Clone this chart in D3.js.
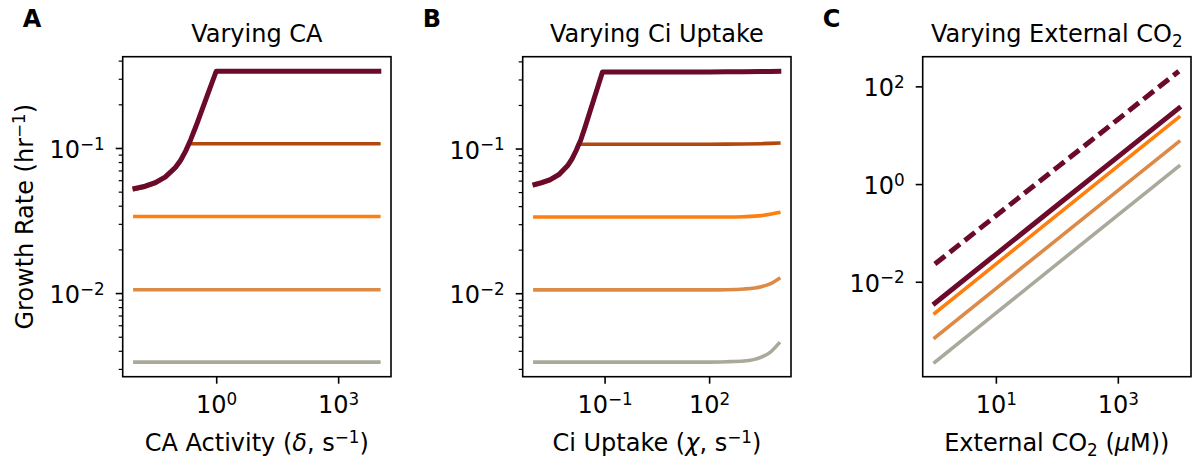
<!DOCTYPE html>
<meta charset="utf-8">
<head>
<style>
body { margin: 0; background: #fff; }
text { font-family: "DejaVu Sans", sans-serif; fill: #000; }
.axis path { display: none; }
.axis line { stroke: #000; }
</style>
</head>
<body>
<script src="https://cdnjs.cloudflare.com/ajax/libs/d3/7.8.5/d3.min.js"></script>
<script>
// ---------------- data ----------------
var seriesColors = ["#6b0a2b", "#b3480d", "#ff7f0e", "#de8a47", "#aba99b"];

// A: varying CA activity
var caActivity = [0.01, 0.0178, 0.0316, 0.0562, 0.1, 0.1334, 0.1778, 0.2128, 0.2371, 0.3162, 0.5623, 1, 10, 100, 1000, 10000];
var caRate1 = [0.0526, 0.0545, 0.0577, 0.0632, 0.0736, 0.0824, 0.0955, 0.107, 0.1146, 0.1406, 0.2178, 0.338, 0.338, 0.338, 0.338, 0.338];
var caRate2 = [0.0518, 0.0537, 0.0568, 0.0623, 0.0725, 0.0812, 0.0941, 0.1062, 0.107, 0.107, 0.107, 0.107, 0.107, 0.107, 0.107, 0.107];
var caRate3 = [0.0337, 0.0337, 0.0337, 0.0337, 0.0337, 0.0337, 0.0337, 0.0337, 0.0337, 0.0337, 0.0337, 0.0337, 0.0337, 0.0337, 0.0337, 0.0337];
var caRate4 = [0.01055, 0.01055, 0.01055, 0.01055, 0.01055, 0.01055, 0.01055, 0.01055, 0.01055, 0.01055, 0.01055, 0.01055, 0.01055, 0.01055, 0.01055, 0.01055];
var caRate5 = [0.00334, 0.00334, 0.00334, 0.00334, 0.00334, 0.00334, 0.00334, 0.00334, 0.00334, 0.00334, 0.00334, 0.00334, 0.00334, 0.00334, 0.00334, 0.00334];

// B: varying Ci uptake
var ciUptake = [0.001, 0.00155, 0.00275, 0.0049, 0.0087, 0.0116, 0.0155, 0.0182, 0.0207, 0.0275, 0.049, 0.087,
                1, 10, 100, 316, 1000, 3160, 5620, 10000];
var ciRate1 = [0.0564, 0.0581, 0.0610, 0.0662, 0.0762, 0.0847, 0.0977, 0.107, 0.1146, 0.1406, 0.2178, 0.338,
               0.338, 0.338, 0.3385, 0.339, 0.339, 0.340, 0.341, 0.342];
var ciRate2 = [0.0556, 0.0572, 0.0601, 0.0652, 0.0751, 0.0834, 0.0962, 0.1062, 0.107, 0.107, 0.107, 0.107,
               0.107, 0.107, 0.107, 0.1072, 0.1075, 0.108, 0.1085, 0.109];
var ciRate3 = [0.0336, 0.0336, 0.0336, 0.0336, 0.0336, 0.0336, 0.0336, 0.0336, 0.0336, 0.0336, 0.0336, 0.0336,
               0.0336, 0.0336, 0.0336, 0.0336, 0.0338, 0.0344, 0.0351, 0.0361];
var ciRate4 = [0.01055, 0.01055, 0.01055, 0.01055, 0.01055, 0.01055, 0.01055, 0.01055, 0.01055, 0.01055, 0.01055, 0.01055,
               0.01055, 0.01055, 0.01055, 0.01058, 0.0107, 0.0111, 0.0116, 0.0126];
var ciRate5 = [0.00334, 0.00334, 0.00334, 0.00334, 0.00334, 0.00334, 0.00334, 0.00334, 0.00334, 0.00334, 0.00334, 0.00334,
               0.00334, 0.00334, 0.00334, 0.00336, 0.0034, 0.00362, 0.0039, 0.0045];

// C: varying external CO2
var co2 = [1, 10, 100, 1000, 10000];
var co2RateDashed = [0.0231, 0.224, 2.17, 21.0, 204];
var co2Rate1 = [0.00365, 0.0364, 0.363, 3.6, 35.7];
var co2Rate3 = [0.00227, 0.0229, 0.231, 2.32, 23.4];
var co2Rate4 = [0.000718, 0.00724, 0.073, 0.736, 7.38];
var co2Rate5 = [0.000226, 0.00228, 0.023, 0.232, 2.32];

var aXTicks = [1, 1000], bXTicks = [0.1, 100], cXTicks = [10, 1000];
var abYTicks = [0.01, 0.1], cYTicks = [0.01, 1, 100];

// ---------------- layout ----------------
var W = 1196, H = 459, FS = 24;
var plotTop = 56.7, plotBottom = 376.7;

var svg = d3.select("body").append("svg")
    .attr("width", W)
    .attr("height", H);

// text with super/subscripts: parts = [[text, kind], ...]
function rich(el, parts, size) {
    var off = 0;
    parts.forEach(function(p) {
        var kind = p[1] || "";
        var target = kind === "sup" ? -0.35 * size : (kind === "sub" ? 0.22 * size : 0);
        var t = el.append("tspan").attr("dy", target - off).text(p[0]);
        off = target;
        if (kind === "sup" || kind === "sub") t.attr("font-size", 0.7 * size);
        if (kind === "it") t.attr("font-style", "italic");
    });
}

function powLabel(v) {
    var e = Math.round(Math.log10(v));
    return [["10"], [e < 0 ? "\u2212" + (-e) : "" + e, "sup"]];
}

function logDomain(vals) {
    var lo = Math.log10(d3.min(vals)), hi = Math.log10(d3.max(vals));
    var pad = 0.05 * (hi - lo);
    return [Math.pow(10, lo - pad), Math.pow(10, hi + pad)];
}

var panels = [
    {
        letter: "A", left: 122.7, right: 391,
        title: [["Varying CA"]],
        xlabel: [["CA Activity ("], ["\u03B4", "it"], [", s"], ["\u22121", "sup"], [")"]],
        x: caActivity, xTicks: aXTicks, yTicks: abYTicks, minor: true,
        lines: [
            { y: caRate5, c: 4, w: 3.6 },
            { y: caRate4, c: 3, w: 3.6 },
            { y: caRate3, c: 2, w: 3.6 },
            { y: caRate2, c: 1, w: 3.6 },
            { y: caRate1, c: 0, w: 5 }
        ]
    },
    {
        letter: "B", left: 522.7, right: 791,
        title: [["Varying Ci Uptake"]],
        xlabel: [["Ci Uptake ("], ["\u03C7", "it"], [", s"], ["\u22121", "sup"], [")"]],
        x: ciUptake, xTicks: bXTicks, yTicks: abYTicks, minor: true,
        lines: [
            { y: ciRate5, c: 4, w: 3.6, smooth: true },
            { y: ciRate4, c: 3, w: 3.6, smooth: true },
            { y: ciRate3, c: 2, w: 3.6, smooth: true },
            { y: ciRate2, c: 1, w: 3.6 },
            { y: ciRate1, c: 0, w: 5 }
        ]
    },
    {
        letter: "C", left: 922.7, right: 1191,
        title: [["Varying External CO"], ["2", "sub"]],
        xlabel: [["External CO"], ["2", "sub"], [" ("], ["\u03BC", "it"], ["M))"]],
        x: co2, xTicks: cXTicks, yTicks: cYTicks, minor: false,
        lines: [
            { y: co2Rate5, c: 4, w: 3.6 },
            { y: co2Rate4, c: 3, w: 3.6 },
            { y: co2Rate3, c: 2, w: 3.6 },
            { y: co2Rate1, c: 0, w: 5 },
            { y: co2RateDashed, c: 0, w: 5, dash: "13,6" }
        ]
    }
];

panels.forEach(function(p) {
    var allY = [];
    p.lines.forEach(function(l) { allY = allY.concat(l.y); });

    var xScale = d3.scaleLog().domain(logDomain(p.x)).range([p.left, p.right]);
    var yScale = d3.scaleLog().domain(logDomain(allY)).range([plotBottom, plotTop]);

    var g = svg.append("g");

    // lines
    p.lines.forEach(function(l) {
        var line = d3.line()
            .x(function(d, i) { return xScale(p.x[i]); })
            .y(function(d) { return yScale(d); })
            .curve(l.smooth ? d3.curveMonotoneX : d3.curveLinear);
        g.append("path")
            .attr("d", line(l.y))
            .attr("fill", "none")
            .attr("stroke", seriesColors[l.c])
            .attr("stroke-width", l.w)
            .attr("stroke-linecap", l.dash ? "butt" : "square")
            .attr("stroke-linejoin", "round")
            .attr("stroke-dasharray", l.dash || null);
    });

    // minor y ticks
    if (p.minor) {
        var minors = yScale.ticks().filter(function(v) {
            return Math.abs(Math.log10(v) - Math.round(Math.log10(v))) > 1e-6;
        });
        g.append("g")
            .attr("class", "axis")
            .attr("transform", "translate(" + p.left + ",0)")
            .call(d3.axisLeft(yScale).tickValues(minors).tickSize(4).tickFormat(""))
            .selectAll("line").attr("stroke-width", 1.2);
    }

    // major y ticks
    var ya = g.append("g")
        .attr("class", "axis")
        .attr("transform", "translate(" + p.left + ",0)")
        .call(d3.axisLeft(yScale).tickValues(p.yTicks).tickSize(7).tickFormat(""));
    ya.selectAll("line").attr("stroke-width", 1.6);
    ya.selectAll(".tick text").each(function(d) {
        var t = d3.select(this).attr("x", -18).attr("y", 9.5).attr("dy", null)
            .attr("font-size", FS).attr("text-anchor", "end");
        rich(t, powLabel(d), FS);
    });

    // x ticks
    var xa = g.append("g")
        .attr("class", "axis")
        .attr("transform", "translate(0," + plotBottom + ")")
        .call(d3.axisBottom(xScale).tickValues(p.xTicks).tickSize(7).tickFormat(""));
    xa.selectAll("line").attr("stroke-width", 1.6);
    xa.selectAll(".tick text").each(function(d) {
        var t = d3.select(this).attr("y", 36.6).attr("dy", null)
            .attr("font-size", FS).attr("text-anchor", "middle");
        rich(t, powLabel(d), FS);
    });

    // frame
    g.append("rect")
        .attr("x", p.left).attr("y", plotTop)
        .attr("width", p.right - p.left).attr("height", plotBottom - plotTop)
        .attr("fill", "none").attr("stroke", "#000").attr("stroke-width", 1.6);

    var cx = (p.left + p.right) / 2;

    // title
    rich(g.append("text").attr("x", cx).attr("y", 41.5)
        .attr("font-size", FS).attr("text-anchor", "middle"), p.title, FS);

    // x label
    rich(g.append("text").attr("x", cx).attr("y", 451)
        .attr("font-size", FS).attr("text-anchor", "middle"), p.xlabel, FS);

    // panel letter
    g.append("text")
        .attr("x", p.left - 100).attr("y", 27.3)
        .attr("font-size", FS).attr("font-weight", "bold")
        .text(p.letter);
});

// shared y label
rich(svg.append("text")
    .attr("transform", "translate(33," + ((plotTop + plotBottom) / 2) + ") rotate(-90)")
    .attr("font-size", FS).attr("text-anchor", "middle"),
    [["Growth Rate (hr"], ["\u22121", "sup"], [")"]], FS);
</script>
</body>
</html>
